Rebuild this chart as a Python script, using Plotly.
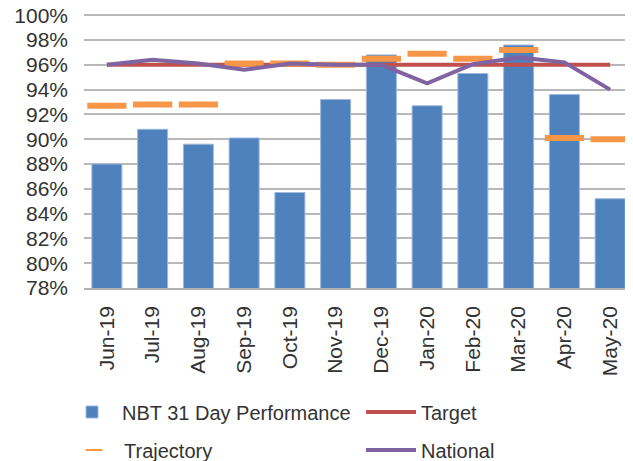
import plotly.graph_objects as go

months = ["Jun-19", "Jul-19", "Aug-19", "Sep-19", "Oct-19", "Nov-19",
          "Dec-19", "Jan-20", "Feb-20", "Mar-20", "Apr-20", "May-20"]
performance = [88.0, 90.8, 89.6, 90.1, 85.7, 93.2, 96.8, 92.7, 95.3, 97.6, 93.6, 85.2]
target = [96.0] * 12
trajectory = [92.7, 92.8, 92.8, 96.1, 96.1, 96.0, 96.5, 96.9, 96.5, 97.2, 90.1, 90.0]
national = [96.0, 96.4, 96.1, 95.6, 96.1, 96.0, 96.0, 94.5, 96.05, 96.6, 96.2, 94.0]
y_ticks = list(range(78, 101, 2))
y_labels = [f"{v}%" for v in y_ticks]

FONT = "Liberation Sans, Arial, sans-serif"
TXT = "#333333"
# page body adds an 8px offset, so the figure is 8px smaller on each axis
W, H = 625, 453

fig = go.Figure()
fig.add_trace(go.Bar(
    x=months, y=performance, name="NBT 31 Day Performance",
    marker=dict(color="#4F81BD", line=dict(color="#9DB9DC", width=1)),
    legend="legend", showlegend=True,
))
fig.add_trace(go.Scatter(
    x=months, y=target, name="Target", mode="lines",
    line=dict(color="#C0504D", width=4),
    legend="legend2",
))
fig.add_trace(go.Scatter(
    x=months, y=trajectory, name="Trajectory", mode="markers",
    marker=dict(symbol="line-ew", size=28, color="#F79646",
                line=dict(color="#F79646", width=6)),
    legend="legend3",
))
fig.add_trace(go.Scatter(
    x=months, y=national, name="National", mode="lines",
    line=dict(color="#8064A2", width=4),
    legend="legend4",
))


def leg(px, py, **kw):
    d = dict(
        orientation="h", xref="container", yref="container",
        xanchor="left", yanchor="middle", x=px / W, y=1 - py / H,
        font=dict(family=FONT, size=20, color=TXT),
        itemwidth=50, bgcolor="rgba(0,0,0,0)", borderwidth=0,
    )
    d.update(kw)
    return d


fig.update_layout(
    width=W, height=H,
    margin=dict(l=76, r=0, t=6, b=173, autoexpand=False),
    paper_bgcolor="white", plot_bgcolor="white",
    bargap=0.344, showlegend=True,
    font=dict(family=FONT, size=21, color=TXT),
    legend=leg(54, 404),
    legend2=leg(353, 404),
    legend3=leg(56, 442, itemsizing="constant"),
    legend4=leg(353, 442),
    xaxis=dict(
        range=[-0.5, len(months) - 0.5],
        tickangle=-90, showgrid=False, showline=True, linecolor="#B3B3B3",
        linewidth=1.5, ticks="", ticklabelstandoff=8, automargin=False,
        ticklabeloverflow="allow",
        tickfont=dict(family=FONT, size=21, color=TXT),
    ),
    yaxis=dict(
        range=[78, 100.1], tickvals=y_ticks, ticktext=y_labels,
        showgrid=True, gridcolor="#B8B8B8", gridwidth=1.5, automargin=False,
        zeroline=False, showline=False, ticks="", ticklabelstandoff=15,
        ticklabeloverflow="allow",
        tickfont=dict(family=FONT, size=21, color=TXT),
    ),
)

fig.write_html("out.html")
